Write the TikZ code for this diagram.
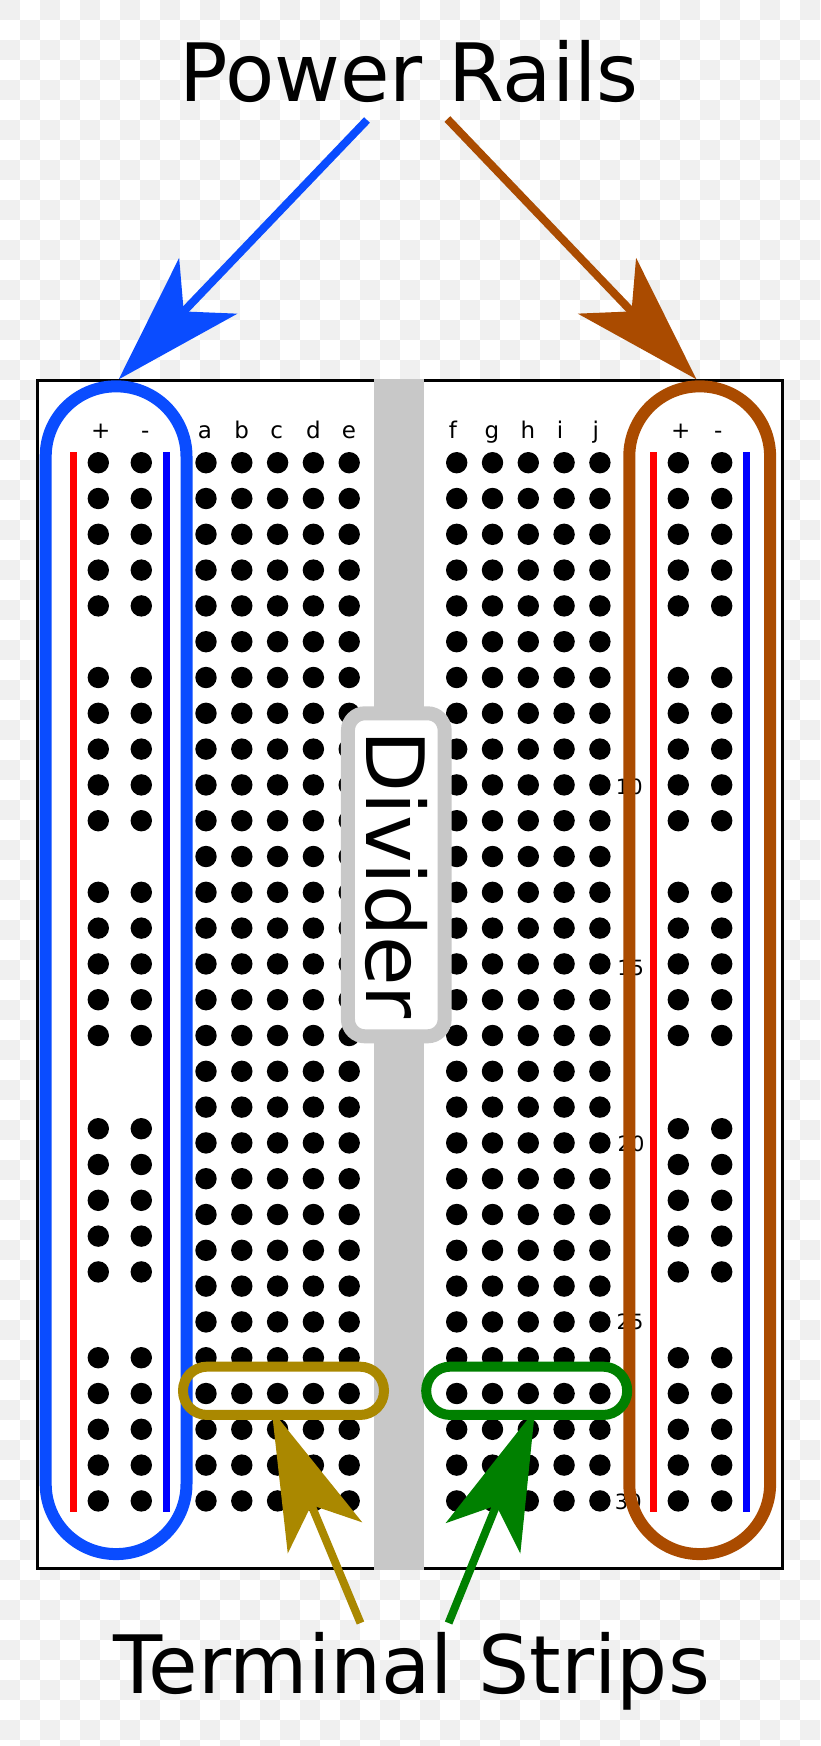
\documentclass[tikz,border=0pt]{standalone}
\usepackage{fontspec}
\setmainfont{DejaVu Sans}
\usepackage{xcolor}
\usetikzlibrary{arrows.meta, positioning}
\definecolor{railblue}{HTML}{0A4CFF}
\definecolor{railbrown}{HTML}{AA4B00}
\definecolor{stripgold}{HTML}{AA8800}
\definecolor{stripgreen}{HTML}{008000}
\definecolor{checkgray}{HTML}{F0F0F0}
\definecolor{divgray}{HTML}{C8C8C8}

\begin{document}
\begin{tikzpicture}[
    x=1pt, y=-1pt,
    title/.style={font=\fontsize{80.5}{90}\selectfont, anchor=base, inner sep=0pt},
    collabel/.style={font=\fontsize{23}{26}\selectfont, anchor=base, inner sep=0pt},
    rowlabel/.style={font=\fontsize{21}{24}\selectfont, anchor=base, inner sep=0pt},
    hole/.style={circle, fill=black, minimum size=21.4pt, inner sep=0pt, outer sep=0pt},
    redrail/.style={draw=red, line width=7pt},
    bluerail/.style={draw=blue, line width=7pt},
    ring/.style={draw, line width=12pt, rounded corners=70pt, minimum width=140.8pt,
                 minimum height=1167.7pt, inner sep=0pt, outer sep=0pt},
    strip/.style={draw, line width=10pt, rounded corners=24pt, minimum width=201pt,
                  minimum height=48.3pt, inner sep=0pt, outer sep=0pt},
    railarr/.style={-{Stealth[length=129pt, width=80pt, inset=35pt]}, line width=8pt},
    striparr/.style={-{Stealth[length=138pt, width=80pt, inset=35pt]}, line width=8pt}
]
\path[use as bounding box] (0,0) rectangle (820,1746);
\fill[white] (0,0) rectangle (820,1746);
\begin{scope}
\clip (0,0) rectangle (820,1746);
\foreach \i in {0,...,40}
  \foreach \j in {0,...,87} {
    \pgfmathtruncatemacro{\odd}{mod(\i+\j,2)}
    \ifnum\odd=0
      \fill[checkgray] (20*\i,20*\j) rectangle (20*\i+20,20*\j+20);
    \fi
  }
\end{scope}

\node[draw, fill=white, line width=3pt, inner sep=0pt, outer sep=0pt,
      minimum width=745pt, minimum height=1188.8pt] (board) at (410.2,974.4) {};
\node[fill=divgray, inner sep=0pt, outer sep=0pt,
      minimum width=50pt, minimum height=1191pt] (gap) at (399,974.4) {};

\node[title] (power) at (409.2,101) {Power Rails};
\node[title] (terminal) at (411.5,1693.3) {Terminal Strips};

\node[collabel] (plusl) at (100.7,438.3) {+};
\node[collabel] (minusl) at (145.3,438.3) {-};
\node[collabel] (plusr) at (680.7,438.3) {+};
\node[collabel] (minusr) at (718.3,438.3) {-};
\foreach \name/\x in {a/205, b/241.7, c/276.7, d/313.3, e/349,
                      f/453, g/492, h/528, i/560, j/595.7}
  \node[collabel] (lab\name) at (\x,438.3) {\name};

\node[rowlabel] (row10) at (629.3,794.3) {10};
\node[rowlabel] (row15) at (630.7,975) {15};
\node[rowlabel] (row20) at (631,1151.7) {20};
\node[rowlabel] (row25) at (630,1329.3) {25};
\node[rowlabel] (row30) at (628.3,1509.3) {30};

\foreach \name/\x in {a/206, b/241.8, c/277.6, d/313.4, e/349.2,
                      f/456.7, g/492.5, h/528.3, i/564.1, j/599.9}
  \foreach \r in {0,...,29}
    \node[hole] (\name\r) at (\x,{462.7+35.8*\r}) {};

\foreach \name/\x in {lp/98.3, lm/141.3, rp/678.3, rm/721.7}
  \foreach \g/\y in {0/462.7, 1/677.5, 2/892.3, 3/1128.7, 4/1357.7}
    \foreach \r in {0,...,4}
      \node[hole] (\name\g\r) at (\x,{\y+35.8*\r}) {};

\draw[redrail] (73.3,452) -- (73.3,1511.7);
\draw[bluerail] (166.7,452) -- (166.7,1511.7);
\draw[redrail] (653.3,452) -- (653.3,1511.7);
\draw[bluerail] (746.7,452) -- (746.7,1511.7);

\node[ring, draw=railblue] (leftring) at (116.1,970.2) {};
\node[ring, draw=railbrown] (rightring) at (699.7,970.2) {};

\node[strip, draw=stripgold] (goldstrip) at (283.5,1390.8) {};
\node[strip, draw=stripgreen] (greenstrip) at (526.7,1390.8) {};

\node[rotate=-90, draw=divgray, fill=white, line width=14pt, rounded corners=17pt,
      minimum width=323pt, minimum height=96.7pt, inner sep=0pt, outer sep=0pt,
      font=\fontsize{80.5}{90}\selectfont] (divider) at (396.3,874.8) {Divider};

\coordinate (bluetail) at (367,120);
\coordinate (browntail) at (447.4,119);
\coordinate (goldtail) at (360.5,1623);
\coordinate (greentail) at (448.6,1623);

\draw[railarr, railblue] (bluetail) -- ([xshift=2.6pt, yshift=7pt]leftring.north);
\draw[railarr, railbrown] (browntail) -- ([xshift=-3.2pt, yshift=7pt]rightring.north);
\draw[striparr, stripgold] (goldtail) -- ([xshift=-11.8pt, yshift=5pt]goldstrip.south);
\draw[striparr, stripgreen] (greentail) -- ([xshift=8.3pt, yshift=5pt]greenstrip.south);
\end{tikzpicture}
\end{document}
